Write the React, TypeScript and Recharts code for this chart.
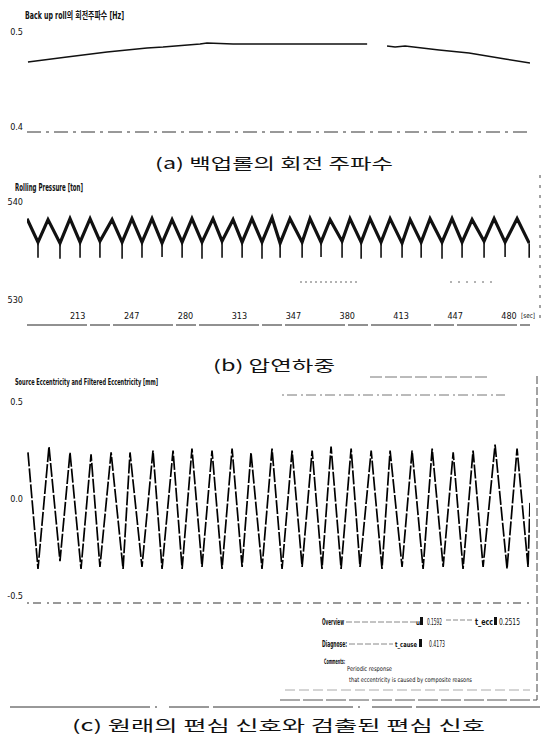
import { LineChart, Line, XAxis, YAxis } from "recharts";

const INK = "#111";
const NARROW =
  '"Liberation Sans Narrow", "DejaVu Sans Condensed", "Arial Narrow", "Noto Sans CJK KR", sans-serif';
const KR = '"Noto Sans CJK KR", "Noto Sans", sans-serif';

// (a) back-up roll rotating frequency [Hz]
const rollTime = [182.6, 206.7, 231.5, 256.2, 266.1, 289.0, 293.3, 309.4, 333.5, 392.3, 398.0, 404.6, 409.6, 415.8, 436.8, 455.3, 477.6, 493.0];
const rollFreq = [0.4684, 0.4737, 0.4789, 0.4832, 0.4842, 0.4874, 0.4884, 0.4874, 0.4874, 0.4874, null, 0.4853, 0.4842, 0.4853, 0.4811, 0.4779, 0.4716, 0.4674];
const rollTicks = [0.4, 0.5];

// (b) rolling pressure [ton]
const pressPeakTime = [182.0, 195.0, 208.6, 221.0, 234.6, 246.9, 259.3, 271.7, 284.0, 297.0, 309.4, 321.1, 333.5, 344.6, 357.0, 369.4, 381.7, 394.1, 406.5, 418.9, 431.2, 444.8, 457.2, 470.8, 485.0];
const pressPeak = [538.3, 538.2, 538.3, 538.3, 538.2, 538.3, 538.3, 538.2, 538.3, 538.3, 538.2, 538.3, 538.4, 538.3, 538.3, 538.2, 538.3, 538.3, 538.3, 538.2, 538.3, 538.3, 538.2, 538.3, 538.3];
const pressTroughTime = [188.8, 202.4, 214.8, 227.1, 240.8, 253.1, 265.5, 277.9, 290.2, 302.6, 315.0, 327.3, 338.5, 352.1, 363.8, 376.8, 388.6, 400.9, 413.9, 425.7, 438.6, 451.0, 464.6, 477.6, 492.5];
const pressTrough = [535.9, 535.8, 535.9, 536.0, 535.9, 535.9, 535.8, 535.9, 535.9, 536.0, 535.9, 535.9, 535.8, 535.9, 535.9, 536.0, 535.9, 535.9, 535.8, 535.9, 535.9, 535.9, 536.0, 535.9, 535.8];
const pressSpike = [534.3, 534.2, 534.3, 534.3, 534.2, 534.3, 534.4, 534.3, 534.2, 534.3, 534.3, 534.2, 534.3, 534.3, 534.4, 534.3, 534.2, 534.3, 534.3, 534.3, 534.2, 534.3, 534.3, 534.4, 534.3];
const pressTicksX = [213.3, 246.7, 280, 313.3, 346.7, 380, 413.3, 446.7, 480];
const pressTicksY = [530, 540];

// (c) source / filtered eccentricity [mm]
const eccPeakTime = [182.6, 195.6, 208.6, 221.6, 234.0, 245.7, 259.9, 272.3, 284.0, 296.4, 308.8, 320.5, 333.5, 345.9, 358.3, 370.0, 382.4, 394.8, 406.5, 420.1, 432.5, 445.5, 457.8, 471.4, 485.0];
const eccPeak = [0.24, 0.27, 0.24, 0.23, 0.24, 0.24, 0.25, 0.25, 0.26, 0.25, 0.26, 0.24, 0.26, 0.25, 0.25, 0.27, 0.26, 0.25, 0.25, 0.25, 0.26, 0.24, 0.25, 0.28, 0.26];
const eccTroughTime = [188.8, 202.4, 215.4, 227.1, 241.4, 253.1, 265.5, 277.9, 290.2, 302.6, 315.0, 327.3, 339.7, 352.1, 364.4, 376.2, 387.9, 401.5, 413.9, 426.9, 439.3, 451.6, 464.0, 478.8, 491.8];
const eccTrough = [-0.36, -0.32, -0.36, -0.35, -0.36, -0.35, -0.36, -0.36, -0.35, -0.36, -0.35, -0.36, -0.36, -0.35, -0.36, -0.36, -0.35, -0.36, -0.35, -0.36, -0.35, -0.36, -0.35, -0.36, -0.35];
const eccTail = { t: 493.0, v: -0.02 };
const eccTicks = [-0.5, 0, 0.5];

const rollData = rollTime.map((t, i) => ({ t, v: rollFreq[i] }));

const pressWave: { t: number; v: number }[] = [];
pressPeakTime.forEach((t, i) => {
  pressWave.push({ t, v: pressPeak[i] });
  pressWave.push({ t: pressTroughTime[i], v: pressTrough[i] });
});
const pressSpikes: { t: number; v: number | null }[] = [];
pressTroughTime.forEach((t, i) => {
  pressSpikes.push({ t, v: pressTrough[i] });
  pressSpikes.push({ t, v: pressSpike[i] });
  pressSpikes.push({ t, v: null });
});

const eccData: { t: number; v: number }[] = [];
eccPeakTime.forEach((t, i) => {
  eccData.push({ t, v: eccPeak[i] });
  eccData.push({ t: eccTroughTime[i], v: eccTrough[i] });
});
eccData.push(eccTail);

const T_DOMAIN: [number, number] = [182, 493];
const yTick = { fontSize: 9, fill: INK, fontFamily: NARROW };

function PressTick(props: any) {
  const { x, y, payload } = props;
  return (
    <text x={x} y={y - 6} textAnchor="middle" fontSize={9} fill={INK} fontFamily={NARROW}>
      {Math.round(payload.value)}
    </text>
  );
}

function Txt({ x, y, w, size, bold, children, font }: any) {
  return (
    <text
      x={x}
      y={y}
      fontSize={size}
      fontWeight={bold ? 700 : 400}
      fontFamily={font || NARROW}
      fill={INK}
      textLength={w}
      lengthAdjust="spacingAndGlyphs"
    >
      {children}
    </text>
  );
}

export default function App() {
  return (
    <div style={{ position: "absolute", left: 0, top: 0, width: 544, height: 739, background: "#fff", overflow: "hidden" }}>
      <div style={{ position: "absolute", left: 0, top: 0 }}>
        <LineChart width={544} height={140} data={rollData} margin={{ top: 32, right: 14, bottom: 7, left: 0 }}>
          <XAxis dataKey="t" type="number" domain={T_DOMAIN} allowDataOverflow tick={false} height={1}
            axisLine={{ stroke: "#333", strokeDasharray: "14 5 3 5" }} tickLine={false} />
          <YAxis type="number" domain={[0.3947, 0.5]} ticks={rollTicks} width={27} axisLine={false} tickLine={false}
            tickSize={0} tickMargin={4} tick={yTick} tickFormatter={(v: number) => v.toFixed(1)} />
          <Line dataKey="v" type="linear" stroke={INK} strokeWidth={1.5} dot={false} connectNulls={false} isAnimationActive={false} />
        </LineChart>
      </div>

      <div style={{ position: "absolute", left: 0, top: 170 }}>
        <LineChart width={544} height={160} margin={{ top: 32, right: 14, bottom: 4, left: 0 }}>
          <XAxis dataKey="t" type="number" domain={T_DOMAIN} allowDataOverflow ticks={pressTicksX} height={1}
            axisLine={{ stroke: "#222", strokeDasharray: "60 3 20 3" }} tickLine={false} tickSize={0} tickMargin={0}
            tick={<PressTick />} interval={0} />
          <YAxis type="number" domain={[527.45, 540]} ticks={pressTicksY} width={27} axisLine={false} tickLine={false}
            tickSize={0} tickMargin={4} tick={yTick} />
          <Line data={pressWave} dataKey="v" type="linear" stroke={INK} strokeWidth={3.2} dot={false} isAnimationActive={false} />
          <Line data={pressSpikes} dataKey="v" type="linear" stroke={INK} strokeWidth={1.6} dot={false} connectNulls={false} isAnimationActive={false} />
        </LineChart>
      </div>

      <div style={{ position: "absolute", left: 0, top: 370 }}>
        <LineChart width={544} height={240} data={eccData} margin={{ top: 32, right: 14, bottom: 6, left: 0 }}>
          <XAxis dataKey="t" type="number" domain={T_DOMAIN} allowDataOverflow tick={false} height={1}
            axisLine={{ stroke: "#333", strokeDasharray: "2 4 8 6" }} tickLine={false} />
          <YAxis type="number" domain={[-0.536, 0.5]} ticks={eccTicks} width={27} axisLine={false} tickLine={false}
            tickSize={0} tickMargin={4} tick={yTick} tickFormatter={(v: number) => v.toFixed(1)} />
          <Line dataKey="v" type="linear" stroke="#000" strokeWidth={1.7} strokeDasharray="14 2" dot={false} isAnimationActive={false} />
        </LineChart>
      </div>

      <svg width={544} height={739} style={{ position: "absolute", left: 0, top: 0, pointerEvents: "none" }}>
        {/* panel titles */}
        <Txt x={25} y={19} w={99} size={10} bold>Back up roll의 회전주파수 [Hz]</Txt>
        <Txt x={15} y={191} w={68} size={10} bold>Rolling Pressure [ton]</Txt>
        <Txt x={15} y={385} w={143} size={9} bold>Source Eccentricity and Filtered Eccentricity [mm]</Txt>
        <Txt x={521} y={318} w={14} size={7}>[sec]</Txt>

        {/* scan borders */}
        <line x1={540} y1={175} x2={540} y2={325} stroke="#444" strokeDasharray="3 7" />
        <line x1={537} y1={376} x2={537} y2={700} stroke="#444" strokeDasharray="8 3" />
        <line x1={10} y1={707} x2={540} y2={707} stroke="#333" strokeDasharray="140 5 2 12 40 4" />
        <line x1={300} y1={282} x2={360} y2={282} stroke="#666" strokeDasharray="2 3" />
        <line x1={450} y1={282} x2={495} y2={282} stroke="#666" strokeDasharray="2 6" />
        <line x1={282} y1={395} x2={505} y2={395} stroke="#777" strokeDasharray="2 3 10 4" />
        <line x1={370} y1={377} x2={488} y2={377} stroke="#777" strokeDasharray="12 3" />

        {/* legend / result box */}
        <line x1={280} y1={700} x2={537} y2={700} stroke="#555" strokeDasharray="20 3" />
        <line x1={346} y1={622} x2={416} y2={622} stroke="#888" strokeDasharray="6 2" />
        <line x1={446} y1={620} x2={472} y2={620} stroke="#888" strokeDasharray="5 2" />
        <line x1={349} y1={644} x2={393} y2={644} stroke="#888" strokeDasharray="6 2" />
        <line x1={285} y1={690} x2={530} y2={690} stroke="#aaa" strokeDasharray="10 4" />
        <Txt x={322} y={625} w={22} size={8} bold>Overview</Txt>
        <Txt x={416} y={625} w={4} size={7} bold>u</Txt>
        <rect x={420} y={617} width={3} height={8} fill={INK} />
        <Txt x={427} y={625} w={15} size={8.5}>0.1592</Txt>
        <Txt x={475} y={625} w={18} size={8} bold>t_ecc</Txt>
        <rect x={494} y={617} width={3} height={8} fill={INK} />
        <Txt x={499} y={625} w={21} size={8.5}>0.2515</Txt>
        <Txt x={322} y={647} w={25} size={8} bold>Diagnose:</Txt>
        <Txt x={395} y={647} w={22} size={7} bold>t_cause</Txt>
        <rect x={419} y={639} width={3} height={8} fill={INK} />
        <Txt x={429} y={647} w={16} size={8.5}>0.4173</Txt>
        <Txt x={324} y={664} w={21} size={7.5} bold>Comments:</Txt>
        <Txt x={347} y={671} w={45} size={6.5}>Periodic response</Txt>
        <Txt x={349} y={682} w={123} size={6.5}>that eccentricity is caused by composite reasons</Txt>

        {/* captions */}
        <Txt x={155} y={169} w={238} size={15} font={KR}>(a)  백업롤의  회전  주파수</Txt>
        <Txt x={213} y={371} w={122} size={15} font={KR}>(b)  압연하중</Txt>
        <Txt x={72} y={731} w={413} size={15} font={KR}>(c)  원래의  편심  신호와  검출된  편심  신호</Txt>
      </svg>
    </div>
  );
}
